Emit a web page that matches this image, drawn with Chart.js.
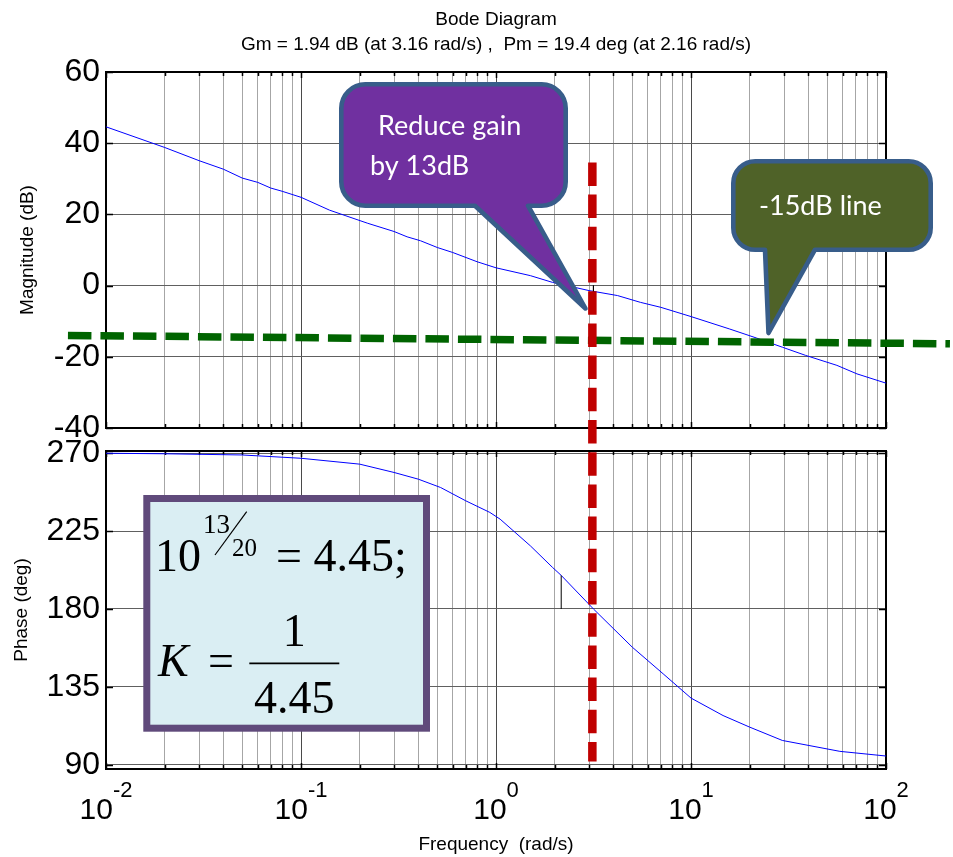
<!DOCTYPE html>
<html><head><meta charset="utf-8">
<script src="https://cdn.jsdelivr.net/npm/chart.js@4.4.1/dist/chart.umd.min.js"></script>
<style>
html,body{margin:0;padding:0;background:#fff;}
#wrap{position:relative;width:953px;height:857px;overflow:hidden;}
canvas{position:absolute;left:0;top:0;}
</style></head><body>
<div id="wrap"><canvas id="phase" width="953" height="857"></canvas><canvas id="mag" width="953" height="857"></canvas></div>
<script>
// ---------------- data ----------------
const titleLines = ['Bode Diagram', 'Gm = 1.94 dB (at 3.16 rad/s) ,  Pm = 19.4 deg (at 2.16 rad/s)'];
const magFreq = [0.01,0.02,0.03,0.04,0.05,0.06,0.07,0.08,0.1,0.14,0.17,0.22,0.3,0.35,0.41,0.5,0.6,0.8,1.0,1.5,1.95,3.0,4.2,5.5,7.0,10,15.8,21.6,29.4,38.7,56,71,100];
const magDb = [44.6,38.8,35.1,32.7,30.2,29.0,27.4,26.5,24.8,21.2,19.6,17.5,15.2,13.7,12.6,10.7,9.3,6.7,5.0,2.8,0.9,-1.4,-2.8,-4.7,-6.1,-8.7,-12.2,-14.7,-17.3,-19.6,-22.4,-24.8,-27.4];
const phaseFreq = [0.01,0.02,0.05,0.1,0.2,0.3,0.4,0.52,0.7,0.93,1.05,1.5,1.95,2.16,3.16,5.0,7.2,10,14.6,20,29.4,58,100];
const phaseDeg = [270.0,269.7,269.0,267.1,263.7,258.9,255.0,250.2,242.5,235.8,231.9,216.5,204.0,199.4,180.0,157.9,142.5,128.5,118.4,111.7,104.0,97.7,95.0];
const magTicks = [-40,-20,0,20,40,60];
const phaseTicks = [90,135,180,225,270];
const decadeExponents = ['-2','-1','0','1','2'];
const decadeBase = '10';
const gmFreq = [3.16,3.16], gmDb = [0,-1.94];
const pmFreq = [2.16,2.16], pmDeg = [180,199.4];
const redFreq = [3.12,3.12], redDb = [34.6,-133.7];
const greenFreq = [0.00638,212.8], greenDb = [-14.0,-16.35];
const calloutGain = ['Reduce gain','by 13dB'];
const calloutLine = ['-15dB line'];

// ---------------- helpers ----------------
const SANS = '"Liberation Sans", Arial, Helvetica, sans-serif';
const SERIF = '"Liberation Serif", "Times New Roman", serif';
Chart.defaults.font.family = SANS;
Chart.defaults.color = '#000';
const zip = (xs, ys) => xs.map((x, i) => ({x, y: ys[i]}));
const xTickValues = [];
decadeExponents.map(Number).forEach(e => {
  for (let m = 1; m <= 9; m++) {
    if (e === 2 && m > 1) break;
    xTickValues.push(+(m * Math.pow(10, e)).toPrecision(6));
  }
});
const isDecade = v => Math.abs(Math.log10(v) - Math.round(Math.log10(v))) < 1e-6;
const gridX = ctx => (ctx.tick && isDecade(ctx.tick.value)) ? '#4a4a4a' : '#a6a6a6';

function frame(chart) {
  const {ctx, chartArea: a, scales} = chart;
  ctx.save();
  ctx.strokeStyle = '#000';
  ctx.lineWidth = 1.5;
  ctx.beginPath();
  scales.x.ticks.forEach(t => {
    const x = Math.round(scales.x.getPixelForValue(t.value)) + 0.5;
    const L = isDecade(t.value) ? 6 : 4;
    ctx.moveTo(x, a.top); ctx.lineTo(x, a.top + L);
    ctx.moveTo(x, a.bottom); ctx.lineTo(x, a.bottom - L);
  });
  scales.y.ticks.forEach(t => {
    const y = Math.round(scales.y.getPixelForValue(t.value)) + 0.5;
    ctx.moveTo(a.left, y); ctx.lineTo(a.left + 7, y);
    ctx.moveTo(a.right, y); ctx.lineTo(a.right - 7, y);
  });
  ctx.stroke();
  ctx.lineWidth = 2;
  ctx.strokeRect(a.left, a.top, a.right - a.left, a.bottom - a.top);
  ctx.restore();
}

function callout(ctx, L, T, R, B, r, tl, tr, tipX, tipY, fill) {
  ctx.save();
  ctx.beginPath();
  ctx.moveTo(L + r, T);
  ctx.lineTo(R - r, T);
  ctx.arcTo(R, T, R, T + r, r);
  ctx.lineTo(R, B - r);
  ctx.arcTo(R, B, R - r, B, r);
  ctx.lineTo(tr, B);
  ctx.lineTo(tipX, tipY);
  ctx.lineTo(tl, B);
  ctx.lineTo(L + r, B);
  ctx.arcTo(L, B, L, B - r, r);
  ctx.lineTo(L, T + r);
  ctx.arcTo(L, T, L + r, T, r);
  ctx.closePath();
  ctx.fillStyle = fill;
  ctx.fill();
  ctx.lineJoin = 'round';
  ctx.lineWidth = 4.6;
  ctx.strokeStyle = '#385D8A';
  ctx.stroke();
  ctx.restore();
}

const magPlugin = {
  id: 'magDecor',
  beforeDatasetsDraw(chart) { frame(chart); },
  afterDraw(chart) {
    const ctx = chart.ctx;
    callout(ctx, 341.3, 84.3, 565.7, 205.7, 24, 475, 528, 585.5, 308.5, '#7030A0');
    callout(ctx, 733.3, 161.3, 930.7, 249.7, 22, 765, 815, 768.5, 333, '#4F6228');
    ctx.save();
    ctx.fillStyle = '#fff';
    ctx.font = '27px Lato, "Open Sans", sans-serif';
    ctx.textBaseline = 'alphabetic';
    ctx.textAlign = 'left';
    ctx.fillText(calloutGain[0], 378, 135);
    ctx.fillText(calloutGain[1], 370, 175);
    ctx.fillText(calloutLine[0], 759, 215);
    ctx.restore();
  }
};

const phasePlugin = {
  id: 'phaseDecor',
  beforeDatasetsDraw(chart) { frame(chart); },
  afterDraw(chart) {
    const ctx = chart.ctx;
    const xs = chart.scales.x;
    ctx.save();
    ctx.fillStyle = '#000';
    ctx.textBaseline = 'alphabetic';
    ctx.textAlign = 'left';
    decadeExponents.forEach(e => {
      const x = xs.getPixelForValue(Math.pow(10, Number(e)));
      ctx.font = '30px ' + SANS;
      const wb = ctx.measureText(decadeBase).width;
      ctx.font = '22px ' + SANS;
      const we = ctx.measureText(e).width;
      const s = x - (wb + we) / 2;
      ctx.font = '30px ' + SANS;
      ctx.fillText(decadeBase, s, 818.5);
      ctx.font = '22px ' + SANS;
      ctx.fillText(e, s + wb, 797);
    });
    // formula box
    ctx.fillStyle = '#DAEEF3';
    ctx.fillRect(146.8, 498.5, 279.7, 229.7);
    ctx.lineWidth = 7;
    ctx.strokeStyle = '#604A7B';
    ctx.strokeRect(146.8, 498.5, 279.7, 229.7);
    ctx.fillStyle = '#000';
    ctx.font = '46px ' + SERIF;
    ctx.fillText('10', 155, 570.7);
    ctx.fillText('= 4.45;', 276, 570.7);
    ctx.font = '27px ' + SERIF;
    ctx.fillText('13', 203, 533);
    ctx.font = '25px ' + SERIF;
    ctx.fillText('20', 232, 556);
    ctx.lineWidth = 1.2;
    ctx.strokeStyle = '#000';
    ctx.beginPath();
    ctx.moveTo(215, 555); ctx.lineTo(246.7, 511.7);
    ctx.stroke();
    ctx.font = 'italic 46px ' + SERIF;
    ctx.fillText('K', 158, 676);
    ctx.font = '46px ' + SERIF;
    ctx.fillText('=', 208, 676);
    ctx.textAlign = 'center';
    ctx.fillText('1', 294.3, 645.7);
    ctx.fillText('4.45', 294.3, 713.3);
    ctx.lineWidth = 1.8;
    ctx.beginPath();
    ctx.moveTo(249.3, 663.3); ctx.lineTo(339.3, 663.3);
    ctx.stroke();
    ctx.restore();
  }
};

const line = (data, color, width, extra) => Object.assign({
  data, borderColor: color, borderWidth: width, pointRadius: 0, tension: 0, fill: false
}, extra || {});

new Chart(document.getElementById('mag'), {
  type: 'line',
  data: { datasets: [
    line(zip(magFreq, magDb), '#0000FF', 1, {order: 4}),
    line(zip(gmFreq, gmDb), '#000', 1, {order: 3}),
    line(zip(greenFreq, greenDb), '#006400', 7.5, {order: 2, clip: false, borderDash: [23.5, 9]}),
    line(zip(redFreq, redDb), '#C00000', 8.5, {order: 1, clip: false, borderDash: [23.5, 8.7]})
  ]},
  options: {
    responsive: false, animation: false, events: [],
    layout: { padding: { left: 0, right: 67, top: 0, bottom: 429 } },
    plugins: {
      legend: {display: false}, tooltip: {enabled: false},
      title: { display: true, text: titleLines, fullSize: false, color: '#000',
        font: {size: 19, weight: 'normal', lineHeight: '25px'}, padding: {top: 7.5, bottom: 14.5} }
    },
    scales: {
      x: { type: 'logarithmic', min: 0.01, max: 100,
        afterBuildTicks: s => { s.ticks = xTickValues.map(v => ({value: v})); },
        afterFit: s => { s.height = 0; },
        ticks: {display: false}, grid: {drawTicks: false, color: gridX, lineWidth: 1}, border: {display: false} },
      y: { type: 'linear', min: -40, max: 60,
        afterBuildTicks: s => { s.ticks = magTicks.map(v => ({value: v})); },
        afterFit: s => { s.width = 106; },
        ticks: {font: {size: 32}, padding: 6, color: '#000'},
        grid: {drawTicks: false, color: '#606060', lineWidth: 1}, border: {display: false},
        title: {display: true, text: 'Magnitude (dB)', font: {size: 19}, padding: {top: 16, bottom: 0}, color: '#000'} }
    }
  },
  plugins: [magPlugin]
});

new Chart(document.getElementById('phase'), {
  type: 'line',
  data: { datasets: [
    line(zip(phaseFreq, phaseDeg), '#0000FF', 1, {order: 2}),
    line(zip(pmFreq, pmDeg), '#000', 1, {order: 1})
  ]},
  options: {
    responsive: false, animation: false, events: [],
    layout: { padding: { left: 0, right: 67, top: 451, bottom: 0 } },
    plugins: { legend: {display: false}, tooltip: {enabled: false}, title: {display: false} },
    scales: {
      x: { type: 'logarithmic', min: 0.01, max: 100,
        afterBuildTicks: s => { s.ticks = xTickValues.map(v => ({value: v})); },
        afterFit: s => { s.height = 88; },
        ticks: {display: false}, grid: {drawTicks: false, color: gridX, lineWidth: 1}, border: {display: false},
        title: {display: true, text: 'Frequency  (rad/s)', font: {size: 19}, padding: {top: 0, bottom: 0.6}, color: '#000'} },
      y: { type: 'linear', min: 87.5, max: 271.3,
        afterBuildTicks: s => { s.ticks = phaseTicks.map(v => ({value: v})); },
        afterFit: s => { s.width = 106; },
        ticks: {font: {size: 32}, padding: 6, color: '#000'},
        grid: {drawTicks: false, color: '#606060', lineWidth: 1}, border: {display: false},
        title: {display: true, text: 'Phase (deg)', font: {size: 19}, padding: {top: 10.6, bottom: 0}, color: '#000'} }
    }
  },
  plugins: [phasePlugin]
});
</script>
</body></html>
